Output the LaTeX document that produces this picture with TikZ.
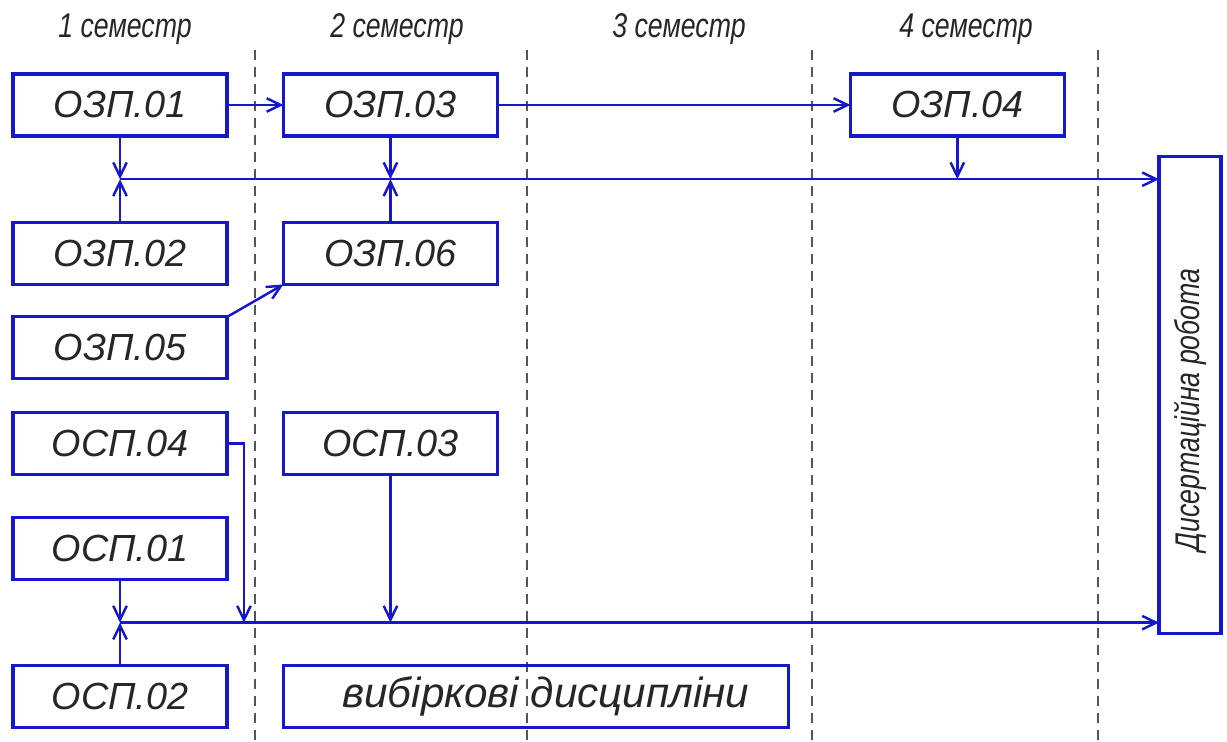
\documentclass[tikz,border=0pt]{standalone}
\usepackage{fontspec}
\setmainfont{Liberation Sans}
\newfontfamily\narrowfont[FakeStretch=0.78]{Liberation Sans}
\usetikzlibrary{arrows.meta,positioning,calc}
\definecolor{planBlue}{RGB}{22,22,205}
\definecolor{gridInk}{RGB}{85,85,85}
\definecolor{textInk}{RGB}{38,38,38}
\tikzset{
  course/.style={draw=planBlue, line width=1.75pt, minimum width=4.28cm, minimum height=1.24cm, inner sep=0pt, outer sep=0pt, text=textInk, font=\itshape\fontsize{21.5}{23}\selectfont},
  header/.style={text=textInk, font=\narrowfont\itshape\fontsize{19.5}{21}\selectfont},
  divider/.style={draw=gridInk, line width=0.6pt, dash pattern=on 0.2cm off 0.14cm},
  flow/.style={-{Straight Barb[length=2.8mm,width=2.7mm]}, line width=1.4pt, draw=planBlue}
}
\begin{document}
\begin{tikzpicture}[x=0.02cm, y=-0.02cm]
        \useasboundingbox (0,0) rectangle (1227,742);
        % semesters
        \node[header] (s1) at (125,29) {1 семестр};
        \node[header] (s2) at (397,29) {2 семестр};
        \node[header] (s3) at (679,29) {3 семестр};
        \node[header] (s4) at (966,29) {4 семестр};
        \foreach \x in {255,527,812,1098}
          \draw[divider] (\x,50) -- (\x,742);
        % courses
        \node[course] (ozp01) at (120,105) {ОЗП.01};
        \node[course, below=1.73cm of ozp01] (ozp02) {ОЗП.02};
        \node[course, below=0.65cm of ozp02] (ozp05) {ОЗП.05};
        \node[course, below=0.67cm of ozp05] (osp04) {ОСП.04};
        \node[course, below=0.87cm of osp04] (osp01) {ОСП.01};
        \node[course, below=1.71cm of osp01] (osp02) {ОСП.02};
        \node[course, right=1.13cm of ozp01] (ozp03) {ОЗП.03};
        \node[course, below=1.73cm of ozp03] (ozp06) {ОЗП.06};
        \node[course, right=1.13cm of osp04] (osp03) {ОСП.03};
        \node[course, right=1.13cm of osp02, minimum width=10.1cm, font=\itshape\fontsize{24}{26}\selectfont] (elect) {\hspace*{0.4cm}вибіркові дисципліни};
        \node[course, right=7.06cm of ozp03] (ozp04) {ОЗП.04};
        \node[course, minimum width=1.24cm, minimum height=9.56cm] (diss) at (1190,395) {};
        \node[header, rotate=90] (dissText) at ($(diss.center)+(0,-0.3cm)$) {Дисертаційна робота};
        % junctions
        \coordinate (ja) at ($(ozp01.south)!0.5!(ozp02.north)$);
        \coordinate (jb) at ($(osp01.south)!0.5!(osp02.north)$);
        \coordinate (kink) at ($(osp04.east)+(0.34cm,0)$);
        \draw[flow] (ozp01) -- (ozp03);
        \draw[flow] (ozp03) -- (ozp04);
        \draw[flow] (ozp05.north east) -- (ozp06.south west);
        \draw[flow] (ozp01) -- (ja);
        \draw[flow] (ozp02) -- (ja);
        \draw[flow] (ozp03) -- (ja -| ozp03);
        \draw[flow] (ozp06) -- (ja -| ozp06);
        \draw[flow] (ozp04) -- (ja -| ozp04);
        \draw[flow] (ja) -- (ja -| diss.west);
        \draw[flow] (osp01) -- (jb);
        \draw[flow] (osp02) -- (jb);
        \draw[flow] (osp04.east) -- (kink) -- (kink |- jb);
        \draw[flow] (osp03) -- (jb -| osp03);
        \draw[flow] (jb) -- (jb -| diss.west);
      \end{tikzpicture}
\end{document}
